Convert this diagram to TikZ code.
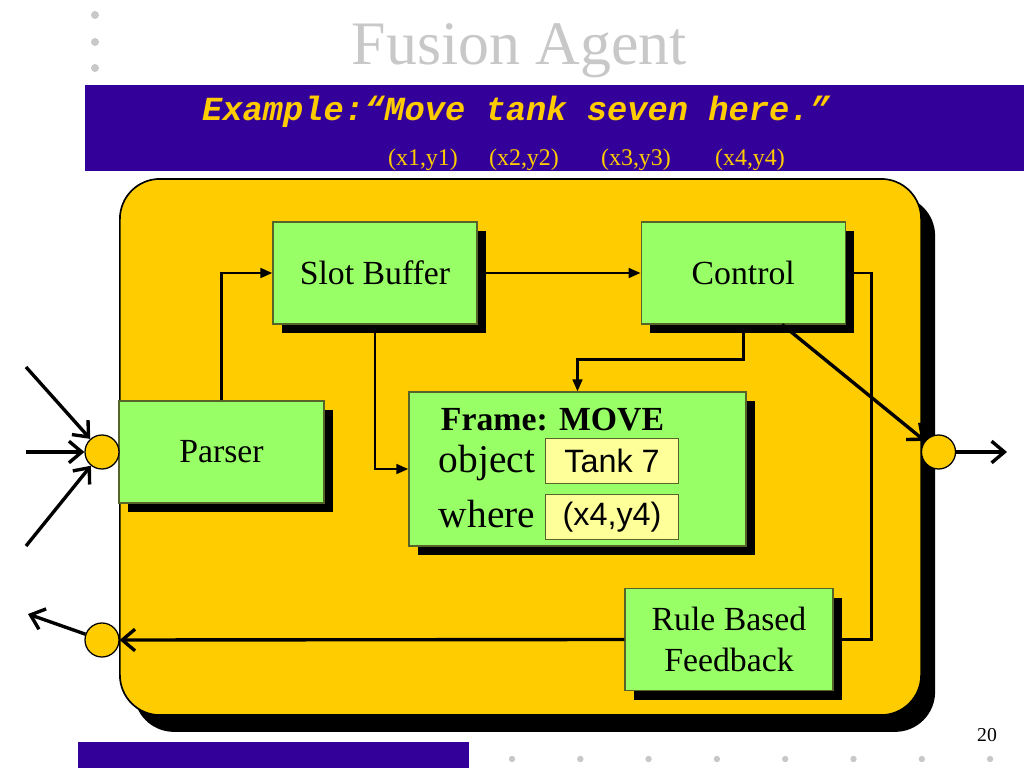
\documentclass[tikz,border=0pt]{standalone}
\usepackage{fontspec}
\setmainfont{Liberation Serif}
\setsansfont{Liberation Sans}
\setmonofont{Liberation Mono}
\usetikzlibrary{positioning,shadows,arrows.meta}
\definecolor{slidepurple}{RGB}{51,0,153}
\definecolor{slidegold}{RGB}{255,204,0}
\definecolor{boxgreen}{RGB}{153,255,102}
\definecolor{fieldyellow}{RGB}{255,255,153}
\definecolor{boxedge}{RGB}{85,100,40}
\definecolor{dotgray}{RGB}{200,200,200}

\begin{document}
\begin{tikzpicture}[x=0.025cm,y=-0.025cm,
    agent box/.style={rounded corners=1cm,draw,line width=1.2pt,fill=slidegold,minimum width=20.025cm,minimum height=13.4cm,inner sep=0pt,
        drop shadow={shadow xshift=0.35cm,shadow yshift=-0.42cm,opacity=1,fill=black}},
    box/.style={draw=boxedge,line width=0.8pt,fill=boxgreen,minimum width=5.1cm,minimum height=2.55cm,inner sep=0pt,font=\fontsize{24}{28.8}\selectfont,
        drop shadow={shadow xshift=0.23cm,shadow yshift=-0.23cm,opacity=1,fill=black}},
    field/.style={draw=boxedge,line width=0.6pt,fill=fieldyellow,minimum width=3.325cm,minimum height=1.125cm,inner sep=0pt,font=\sffamily\fontsize{23}{27}\selectfont},
    port/.style={circle,draw,line width=0.9pt,fill=slidegold,minimum size=0.85cm,inner sep=0pt},
    link/.style={line width=1.9pt,-{Triangle[length=3mm,width=2.4mm]}},
    wire/.style={line width=1.9pt},
    signal/.style={line width=2.4pt,-{Straight Barb[length=3.2mm,width=5.4mm]}}]
    \useasboundingbox (0,0) rectangle (1024,768);

    \foreach \y in {15,42,68} \fill[dotgray] (95,\y) circle[radius=0.1cm];
    \node[font=\fontsize{44}{50}\selectfont,text=dotgray,anchor=base] (title) at (519.5,65) {Fusion Agent};

    \fill[slidepurple] (85,85) rectangle (1024,171);
    \node[font=\ttfamily\bfseries\itshape\fontsize{24}{28}\selectfont,text=slidegold,anchor=base] (example) at (516,121) {Example:“Move tank seven here.”};
    \foreach \x/\n in {423/1,524/2,636/3,750/4}
        \node[font=\fontsize{17}{20}\selectfont,text=slidegold,anchor=base] (xy\n) at (\x,165) {(x\n,y\n)};

    \node[agent box] (agent) at (520.5,447) {};

    \node[box] (slot) at (375,273) {Slot Buffer};
    \node[box,right=4.075cm of slot] (control) {Control};
    \node[box,minimum width=5.125cm] (parser) at (221.5,452) {Parser};
    \node[box,minimum width=8.425cm,minimum height=3.85cm] (frame) at (577.5,469) {};
    \node[font=\bfseries\fontsize{24}{28.8}\selectfont,anchor=base west] (frametitle) at (436,430) {Frame: MOVE};
    \node[font=\fontsize{28}{33}\selectfont,anchor=base west] (objlabel) at (434,472) {object};
    \node[font=\fontsize{28}{33}\selectfont,anchor=base west] (wherelabel) at (434,527) {where};
    \node[field] (tank) at (612,461) {Tank 7};
    \node[field,below=0.25cm of tank] (pos) {(x4,y4)};
    \node[box,minimum width=5.2cm,align=center] (rule) at (729,639.5) {Rule Based\\Feedback};

    \node[port] (inL) at (102,452) {};
    \node[port] (fbL) at (102,640) {};
    \node[port] (outR) at (938.5,452) {};
    \coordinate (in1) at (26,367);
    \coordinate (in2) at (26,452);
    \coordinate (in3) at (26,546);
    \coordinate (fbout) at (28,614);
    \coordinate (outend) at (1007,452);

    \draw[link] (parser.north) |- (slot.west);
    \draw[link] (slot) -- (control);
    \draw[link] (slot.south) |- (frame.west);
    \draw[link] (control.south) -- ++(0,35) -| (frame.north);
    \draw[wire] (control.east) -- ++(26,0) |- (rule.east);
    \draw[signal] (control.-53) -- (outR);
    \draw[signal] (rule.west) -- (fbL);
    \foreach \i in {in1,in2,in3} \draw[signal] (\i) -- (inL);
    \draw[signal] (fbL) -- (fbout);
    \draw[signal] (outR) -- (outend);

    \fill[slidepurple] (78,742) rectangle (469,768);
    \foreach \k in {0,...,7} \fill[dotgray] (512+68.3*\k,759) circle[radius=0.08cm];
    \node[font=\fontsize{14}{16}\selectfont] (pagenum) at (987,735) {20};
\end{tikzpicture}
\end{document}
